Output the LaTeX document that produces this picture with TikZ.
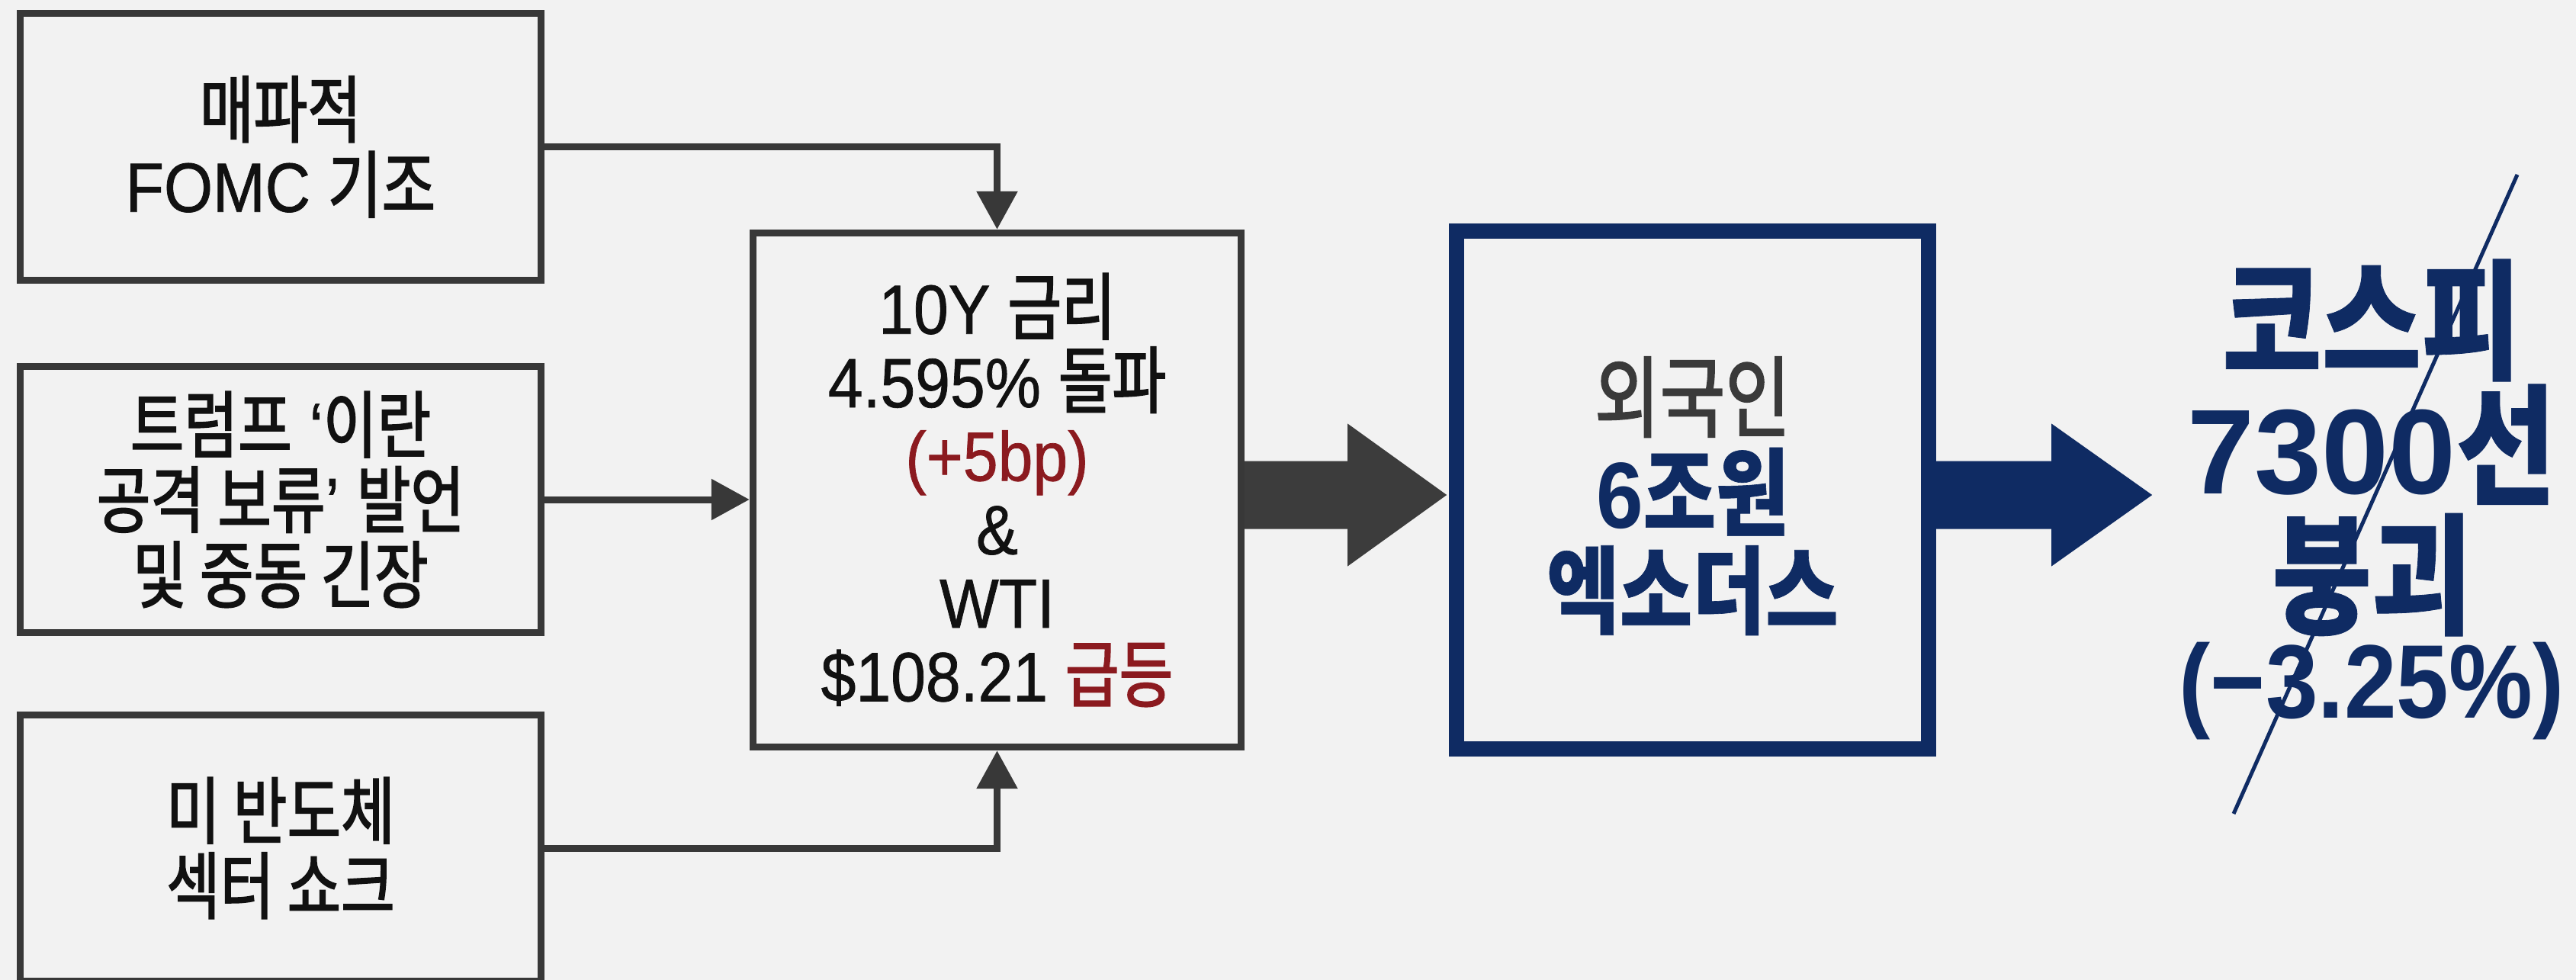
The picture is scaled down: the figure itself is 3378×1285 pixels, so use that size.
\documentclass[tikz,border=0pt]{standalone}
\usepackage{fontspec}
\setmainfont{Liberation Sans}
\newfontfamily\lat{Liberation Sans}[FakeStretch=0.9,FakeBold=0.8]
\newfontfamily\latN{Liberation Sans}[FakeStretch=0.9]
\newfontfamily\krR{Noto Sans CJK KR}[Scale=1.05,FakeStretch=0.8,FakeBold=1.8]
\newfontfamily\krB{Noto Sans CJK KR}[Scale=1.13,FakeStretch=0.83,BoldFeatures={FakeBold=0.5}]
\usetikzlibrary{arrows.meta,calc}
\definecolor{bgc}{HTML}{F2F2F2}
\definecolor{boxc}{HTML}{383838}
\definecolor{txtc}{HTML}{111111}
\definecolor{dred}{HTML}{8B1A1F}
\definecolor{navy}{HTML}{0F2B63}
\definecolor{agray}{HTML}{3C3C3C}
\definecolor{dgray}{HTML}{3A3A3A}
\newcommand\K[1]{{\krR #1}}
\newcommand\KB[1]{{\bfseries\krB #1}}
\begin{document}
\begin{tikzpicture}[x=0.01cm,y=-0.01cm,
  gbox/.style={draw=boxc, line width=0.09cm, minimum width=6.83cm, minimum height=3.49cm,
    align=center, text=txtc, inner sep=0pt, font=\lat\fontsize{26}{28}\selectfont},
  mbox/.style={draw=boxc, line width=0.09cm, minimum width=6.40cm, minimum height=6.74cm,
    align=center, text=txtc, inner sep=0pt, font=\lat\fontsize{26}{27.4}\selectfont},
  bbox/.style={draw=navy, line width=0.2cm, minimum width=6.19cm, minimum height=6.79cm, inner sep=0pt},
  btext/.style={align=center, inner sep=0pt, font=\fontsize{31.5}{36.5}\selectfont},
  conn/.style={draw=boxc, line width=0.09cm, -{Triangle[length=0.5cm,width=0.52cm]}},
  bigtext/.style={align=center, text=navy, font=\bfseries\fontsize{43}{42.7}\selectfont, inner sep=0pt}
]
\fill[bgc] (0,0) rectangle (3378,1285);
\useasboundingbox (0,0) rectangle (3378,1285);

\node[gbox] (b1) at (368,192.5) {\K{매파적}\\FOMC \K{기조}};
\node[gbox] (b2) at (368,655) {\K{트럼프} ‘\K{이란}\\\K{공격 보류}’ \K{발언}\\\K{및 중동 긴장}};
\node[gbox] (b3) at (368,1112) {\K{미 반도체}\\\K{섹터 쇼크}};

\node[mbox] (mid) at (1307.5,642.5) {10Y \K{금리}\\4.595\% \K{돌파}\\\textcolor{dred}{(+5bp)}\\\&\\WTI\\\$108.21 \textcolor{dred}{\K{급등}}};

\node[bbox] (blue) at (2219.5,642.5) {};
\node[btext] (bluetxt) at ($(blue.center)+(0,8)$) {\textcolor{dgray}{\K{외국인}}\\{\color{navy}{\latN\bfseries\fontsize{35}{36.5}\selectfont 6}\KB{조원}}\\{\color{navy}\KB{엑소더스}}};

\node[bigtext] (kospi) at (3110,655) {\KB{코스피}\\{\fontsize{45}{42.7}\selectfont 7300}\KB{선}\\[0.08cm]\KB{붕괴}\\[-0.26cm]{\latN\bfseries\fontsize{39}{42.7}\selectfont(−3.25\%)}};

\draw[conn] (b1.east) -| (mid.north);
\draw[conn] (b2.east) -- (b2.east -| mid.west);
\draw[conn] (b3.east) -| (mid.south);

\coordinate (ga) at ($(mid.east)+(0,6.5)$);
\fill[agray] (ga) -- ++(0,-44.5) -- ++(135,0) -- ++(0,-49) -- ++(130,93.5) -- ++(-130,93.5) -- ++(0,-49) -- ++(-135,0) -- cycle;

\coordinate (ba) at ($(blue.east)+(0,6.5)$);
\fill[navy] (ba) -- ++(0,-44.5) -- ++(151,0) -- ++(0,-49) -- ++(132,93.5) -- ++(-132,93.5) -- ++(0,-49) -- ++(-151,0) -- cycle;

\coordinate (s1) at (3301,229);
\coordinate (s2) at (2929,1067);
\draw[navy, line width=0.05cm] (s1) -- (s2);
\end{tikzpicture}
\end{document}
